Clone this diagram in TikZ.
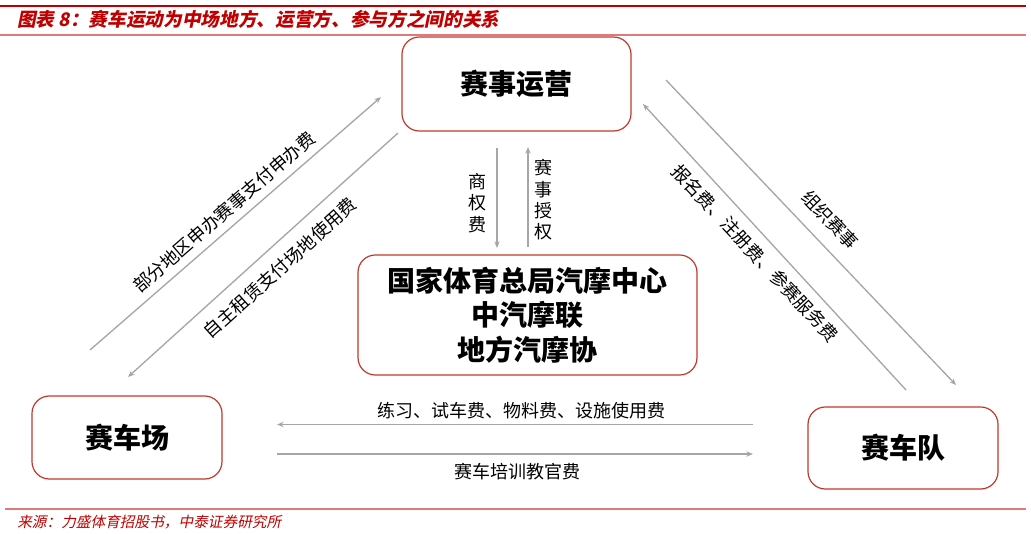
\documentclass[tikz,border=0pt]{standalone}
\usepackage{fontspec}
\setmainfont{Noto Sans CJK SC}
\newfontfamily\titlefont[FakeSlant=0.2]{Noto Sans CJK SC}
\usetikzlibrary{arrows.meta}
\definecolor{boxred}{HTML}{C0392B}
\definecolor{titlered}{HTML}{C00000}
\definecolor{linered}{HTML}{E07A7A}
\definecolor{arrowgray}{HTML}{A6A6A6}
\tikzset{
  box/.style={draw=boxred, line width=0.9pt, rounded corners=13pt, fill=white, align=center, font=\fontsize{21}{26}\selectfont\bfseries, inner sep=0pt},
  flow/.style={draw=arrowgray, line width=1pt, -{Stealth[length=5pt,width=4pt]}},
  lbl/.style={font=\fontsize{13.5}{16}\selectfont, inner sep=0pt, align=center},
}
\begin{document}
\begin{tikzpicture}[x=0.75pt,y=-0.75pt]
\useasboundingbox (0,0) rectangle (1031,533);
% header and footer rules
\draw[titlered, line width=1.6pt] (0,6) -- (1026,6);
\draw[linered, line width=1pt] (0,35) -- (1026,35);
\draw[linered, line width=1pt] (5,509) -- (1026,509);
\node[anchor=west, text=titlered, font=\titlefont\bfseries\fontsize{14}{16}\selectfont, inner sep=0pt] (title) at (17,19) {图表 8：赛车运动为中场地方、运营方、参与方之间的关系};
\node[anchor=west, text=titlered, font=\titlefont\fontsize{11}{13}\selectfont, inner sep=0pt] (source) at (17,522) {来源：力盛体育招股书，中泰证券研究所};
% boxes
\node[box, minimum width=171.75pt, minimum height=70.5pt] (ops) at (516.5,84) {赛事运营};
\node[box, minimum width=254.25pt, minimum height=90pt] (center) at (527.5,315) {国家体育总局汽摩中心\\中汽摩联\\地方汽摩协};
\node[box, minimum width=142.5pt, minimum height=62.25pt] (track) at (127,437.5) {赛车场};
\node[box, minimum width=142.5pt, minimum height=61.5pt] (team) at (903,448) {赛车队};
% coordinates
\coordinate (la1) at (90,350); \coordinate (la2) at (381,97);
\coordinate (lb1) at (398,133); \coordinate (lb2) at (128,377);
\coordinate (va1) at (497,148); \coordinate (va2) at (497,248);
\coordinate (vb1) at (528,247); \coordinate (vb2) at (528,147);
\coordinate (ra1) at (666,80); \coordinate (ra2) at (956,385);
\coordinate (rb1) at (906,390); \coordinate (rb2) at (643,104);
\coordinate (ha1) at (753,424.5); \coordinate (ha2) at (277,424.5);
\coordinate (hb1) at (277,454); \coordinate (hb2) at (753,454);
% arrows
\draw[flow] (la1) -- (la2);
\draw[flow] (lb1) -- (lb2);
\draw[flow] (va1) -- (va2);
\draw[flow] (vb1) -- (vb2);
\draw[flow] (ra1) -- (ra2);
\draw[flow] (rb1) -- (rb2);
\draw[flow] (ha1) -- (ha2);
\draw[flow] (hb1) -- (hb2);
% labels
\node[lbl, rotate=41] (t1) at (224,212) {部分地区申办赛事支付申办费};
\node[lbl, rotate=42] (t2) at (280,268) {自主租赁支付场地使用费};
\node[lbl, rotate=-46.5] (t3) at (830,220) {组织赛事};
\node[lbl, rotate=-47] (t4) at (755,253) {报名费、注册费、参赛服务费};
\node[lbl] (t5) at (477,203) {商\\权\\费};
\node[lbl] (t6) at (543,200) {赛\\事\\授\\权};
\node[lbl] (t7) at (521,411) {练习、试车费、物料费、设施使用费};
\node[lbl] (t8) at (517,472) {赛车培训教官费};
\end{tikzpicture}
\end{document}
